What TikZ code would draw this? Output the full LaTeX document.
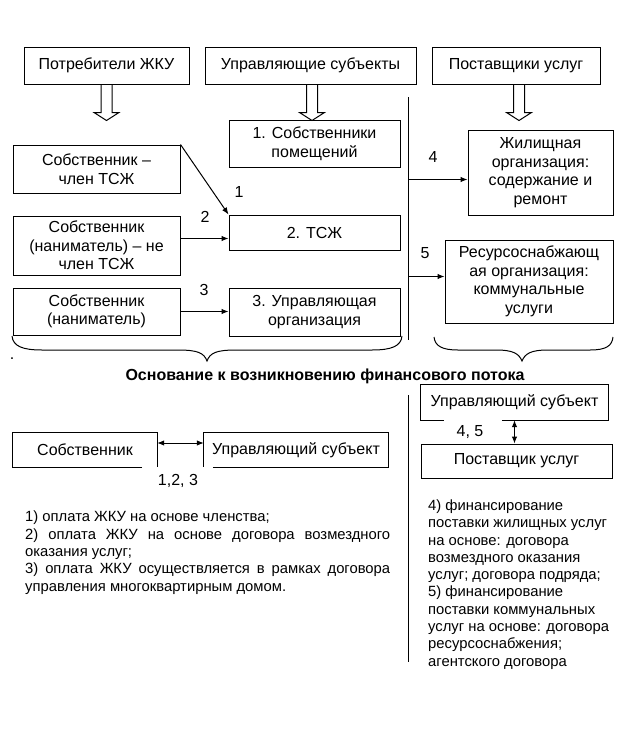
\documentclass[tikz,border=0pt]{standalone}
\usepackage{fontspec}
\setmainfont{Liberation Sans}
\usetikzlibrary{arrows.meta,calc}
\newcommand\myfont{\fontsize{16}{18.5}\selectfont}
\newcommand\myfontb{\fontsize{14.8}{17.3}\selectfont}
\begin{document}
\begin{tikzpicture}[x=1pt,y=-1pt,
  ln/.style={line width=1pt},
  box/.style={draw, ln, inner sep=2pt, align=center, font=\myfont},
  boxnd/.style={inner sep=2pt, align=center, font=\myfont},
  lab/.style={inner sep=1pt, font=\myfont},
  arr/.style={ln, -{Latex[length=7pt,width=5.5pt]}},
  darr/.style={ln, {Latex[length=7pt,width=5.5pt]}-{Latex[length=7pt,width=5.5pt]}},
  hollow/.pic={\draw[line width=1pt] (-5.5,0) -- (-5.5,28) -- (-12.5,28) -- (0,36) -- (12.5,28) -- (5.5,28) -- (5.5,0);}
]
\useasboundingbox (0,0) rectangle (640,745);
\fill[white] (0,0) rectangle (640,745);

% headers
\node[box, minimum width=165, minimum height=37] (h1) at (106.5,65.5) {Потребители ЖКУ};
\node[box, minimum width=211, minimum height=37] (h2) at (310.5,65.5) {Управляющие субъекты};
\node[box, minimum width=168, minimum height=37] (h3) at (516,65.5) {Поставщики услуг};
\pic at (h1.south) {hollow};
\pic at ([xshift=1.5pt]h2.south) {hollow};
\pic at ([xshift=3pt]h3.south) {hollow};

% middle column
\node[box, minimum width=171, minimum height=47] (m1) at (314.5,143.5) {1. Собственники\\помещений};
\node[box, minimum width=171, minimum height=35] (m2) at (314.5,232.5) {2. ТСЖ};
\node[box, minimum width=171, minimum height=48] (m3) at (314.5,312) {3. Управляющая\\организация};
% left column
\node[box, minimum width=167, minimum height=48] (a1) at (96.5,169) {Собственник –\\член ТСЖ};
\node[box, minimum width=167, minimum height=59] (a2) at (96.5,245.5) {Собственник\\(наниматель) – не\\член ТСЖ};
\node[box, minimum width=167, minimum height=47] (a3) at (96.5,311.5) {Собственник\\(наниматель)};
% right column
\node[box, minimum width=145, minimum height=85] (r1) at (540.5,172.5) {Жилищная\\организация:\\содержание и\\ремонт};
\node[box, minimum width=168, minimum height=83] (r2) at (529,281.5) {Ресурсоснабжающ\\ая организация:\\коммунальные\\услуги};

\coordinate (vt) at (408,97);
\coordinate (vb) at (408,340);
\draw[ln] (vt) -- (vb);

\draw[arr] (a1.north east) -- (m2.north west);
\draw[arr] ([yshift=7pt]a2.east) -- ([yshift=7pt]a2.east -| m2.west);
\draw[arr] (a3.east) -- (a3.east -| m3.west);
\draw[arr] ([yshift=-7pt]r1.west -| vt) -- ([yshift=-7pt]r1.west);
\draw[arr] ([yshift=5pt]r2.west -| vt) -- ([yshift=5pt]r2.west);

\node[lab] (l1) at (239,192) {1};
\node[lab] (l2) at (205,217) {2};
\node[lab] (l3) at (204,290) {3};
\node[lab] (l4) at (433,157) {4};
\node[lab] (l5) at (425,253) {5};

% braces
\draw[ln] (12,336) .. controls (13,346) and (22,350) .. (42,350) -- (178,350) .. controls (198,350) and (204,353) .. (207,361) .. controls (210,353) and (216,350) .. (236,350) -- (372,350) .. controls (392,350) and (401,346) .. (402,336);
\draw[ln] (434,337) .. controls (435,346) and (442,350) .. (458,350) -- (496,350) .. controls (514,350) and (519,354) .. (522,361) .. controls (525,354) and (530,350) .. (548,350) -- (590,350) .. controls (606,350) and (612,346) .. (613,337);
\node[lab] (dot) at (12,359) {.};

\node[font=\myfont\bfseries, inner sep=1pt] (title) at (325,376) {Основание к возникновению финансового потока};

% lower part
\coordinate (wt) at (408,395);
\coordinate (wb) at (408,662);
\draw[ln] (wt) -- (wb);

\node[boxnd, minimum width=144, minimum height=34] (b1) at (85,450) {Собственник};
\node[boxnd, minimum width=184, minimum height=34] (b2) at (296,450) {Управляющий субъект};
\draw[ln] ([xshift=-15pt]b1.south east) -- (b1.south west) -- (b1.north west) -- (b1.north east) -- (b1.south east);
\draw[ln] ([xshift=9pt]b2.south west) -- (b2.south east) -- (b2.north east) -- (b2.north west) -- (b2.south west);
\draw[darr] ([yshift=7pt]b1.east) -- ([yshift=7pt]b1.east -| b2.west);
\node[lab] (l123) at (178,481) {1,2, 3};

\node[boxnd, minimum width=187, minimum height=35] (c1) at (514.5,402.5) {Управляющий субъект};
\draw[ln] ([xshift=81pt]c1.south west) -- (c1.south east) -- (c1.north east) -- (c1.north west) -- (c1.south west) -- ([xshift=23pt]c1.south west);
\node[box, minimum width=191, minimum height=34] (c2) at (516.5,461) {Поставщик услуг};
\draw[darr] (c1.south) -- (c1.south |- c2.north);
\node[lab] (l45) at (470,432) {4, 5};

\node[anchor=north west, inner sep=0pt, text width=365pt, align=justify, font=\myfontb] (t1) at (25,511)
{1) оплата ЖКУ на основе членства;\par
2) оплата ЖКУ на основе договора возмездного\linebreak оказания услуг;\par
3) оплата ЖКУ осуществляется в рамках договора\linebreak управления многоквартирным домом.};

\node[anchor=north west, inner sep=0pt, align=left, font=\myfontb] (t2) at (428,499.5)
{4) финансирование\\поставки жилищных услуг\\на основе: договора\\возмездного оказания\\услуг; договора подряда;\\5) финансирование\\поставки коммунальных\\услуг на основе: договора\\ресурсоснабжения;\\агентского договора};
\end{tikzpicture}
\end{document}
